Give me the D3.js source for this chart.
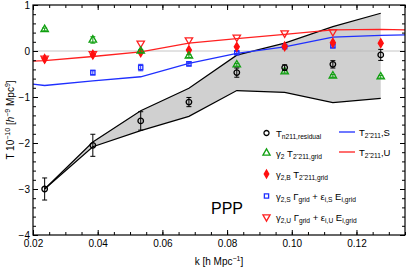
<!DOCTYPE html>
<html><head><meta charset="utf-8">
<script src="https://cdn.jsdelivr.net/npm/d3@7"></script>
<style>
body{margin:0;background:#fff}
svg{font-family:"Liberation Sans",Arial,sans-serif}
</style>
</head><body><script>
var width = 407, height = 270

// bin centres and measured values
var kBins = [0.0236,0.0385,0.0533,0.0682,0.0830,0.0978,0.1127,0.1275]
var residual = [-3.0,-2.05,-1.52,-1.11,-0.47,-0.36,-0.29,-0.085]
var residualErr = [0.24,0.24,0.2,0.1,0.1,0.06,0.08,0.12]
var gammaGrid = [0.47,0.24,0.0,-0.11,-0.30,-0.45,-0.54,-0.56]
var gammaGridErr = [0.03,0.07,0.03,0.03,0.03,0.03,0.03,0.03]
var gammaB = [-0.17,-0.08,-0.03,0.02,0.09,0.10,0.18,0.17]
var gammaS = [null,-0.47,-0.36,-0.28,-0.04,0.095,0.11,null]
var gammaSErr = [0,0.05,0.07,0.04,0.03,0.03,0.03,0]
var gammaU = [-0.16,-0.06,0.17,0.24,0.30,0.39,0.42,null]
var bandUpper = [-3.0,-1.98,-1.3,-0.81,-0.09,0.17,0.53,0.82]
var bandLower = [-3.0,-2.08,-1.73,-1.42,-0.86,-0.9,-1.12,-1.03]

// model curves
var kModel = [0.02,0.0236,0.0385,0.0533,0.0682,0.0830,0.0978,0.1127,0.1275,0.135]
var modelS = [-0.72,-0.75,-0.65,-0.56,-0.27,-0.05,0.09,0.30,0.34,0.35]
var modelU = [-0.22,-0.21,-0.12,-0.02,0.17,0.27,0.36,0.46,0.47,0.46]

var xTicks = [0.02,0.04,0.06,0.08,0.10,0.12]
var yTicks = [1,0,-1,-2,-3,-4]

var pL = 33, pR = 405, pT = 5, pB = 235

var x = d3.scaleLinear().domain([0.02,0.135]).range([pL,pR])
var y = d3.scaleLinear().domain([-4,1]).range([pB,pT])

var svg = d3.select("body").append("svg")
.attr("width", width)
.attr("height", height)

//band between the two bounds
var band = d3.area()
.x(function(d,i){ return x(kBins[i]) })
.y0(function(d,i){ return y(bandLower[i]) })
.y1(function(d){ return y(d) })

svg.append("path")
.attr("d", band(bandUpper))
.attr("fill","#d0d0d0")

var bandLine = d3.line().x(function(d,i){ return x(kBins[i]) }).y(function(d){ return y(d) })
svg.append("path").attr("d", bandLine(bandUpper)).attr("fill","none").attr("stroke","#000").attr("stroke-width",1.2)
svg.append("path").attr("d", bandLine(bandLower)).attr("fill","none").attr("stroke","#000").attr("stroke-width",1.2)

//zero line
svg.append("line")
.attr("x1",pL).attr("x2",pR)
.attr("y1",y(0)).attr("y2",y(0))
.attr("stroke","#b8b8b8").attr("stroke-width",0.8)

//model lines
var modelLine = d3.line().x(function(d,i){ return x(kModel[i]) }).y(function(d){ return y(d) })
svg.append("path").attr("d", modelLine(modelS)).attr("fill","none").attr("stroke","#1f2fff").attr("stroke-width",1.3)
svg.append("path").attr("d", modelLine(modelU)).attr("fill","none").attr("stroke","#ff2020").attr("stroke-width",1.3)

function drawSeries(vals, errs, shape, color, filled, rot, size) {
  var g = svg.append("g")
  vals.forEach(function(v,i){
    if (v === null) return
    var cx = x(kBins[i]), cy = y(v)
    if (errs && errs[i] > 0) {
      var e0 = y(v-errs[i]), e1 = y(v+errs[i])
      g.append("line").attr("x1",cx).attr("x2",cx).attr("y1",e0).attr("y2",e1).attr("stroke",color).attr("stroke-width",1)
      g.append("line").attr("x1",cx-2.5).attr("x2",cx+2.5).attr("y1",e0).attr("y2",e0).attr("stroke",color).attr("stroke-width",1)
      g.append("line").attr("x1",cx-2.5).attr("x2",cx+2.5).attr("y1",e1).attr("y2",e1).attr("stroke",color).attr("stroke-width",1)
    }
    g.append("path")
    .attr("d", d3.symbol().type(shape).size(size)())
    .attr("transform","translate("+cx+","+cy+") rotate("+rot+")")
    .attr("fill", filled ? color : "none")
    .attr("stroke", color)
    .attr("stroke-width", 1.3)
  })
}

drawSeries(gammaU, null, d3.symbolTriangle, "#ff2020", false, 180, 24)
drawSeries(gammaS, gammaSErr, d3.symbolSquare, "#1f2fff", false, 0, 18)
drawSeries(gammaB, null, d3.symbolDiamond, "#ff1010", true, 0, 22)
drawSeries(gammaGrid, gammaGridErr, d3.symbolTriangle, "#10a010", false, 0, 24)
drawSeries(residual, residualErr, d3.symbolCircle, "#000", false, 0, 24)

//axes, ticks inward on all sides
var minorX = d3.range(0.02,0.1351,0.005)
var minorY = d3.range(-4,1.001,0.2)

function addAxis(axis, tx, ty) {
  var g = svg.append("g").attr("transform","translate("+tx+","+ty+")").call(axis)
  g.select(".domain").remove()
  g.selectAll("text").attr("font-size",10).attr("fill","#000").attr("font-family","Liberation Sans, Arial, sans-serif")
  return g
}
addAxis(d3.axisBottom(x).tickValues(xTicks).tickSize(-5).tickPadding(5).tickFormat(d3.format(".2f")),0,pB)
addAxis(d3.axisBottom(x).tickValues(minorX).tickSize(-3).tickFormat(""),0,pB)
addAxis(d3.axisTop(x).tickValues(xTicks).tickSize(-5).tickFormat(""),0,pT)
addAxis(d3.axisTop(x).tickValues(minorX).tickSize(-3).tickFormat(""),0,pT)
addAxis(d3.axisLeft(y).tickValues(yTicks).tickSize(-5).tickPadding(3).tickFormat(d3.format("d")),pL,0)
addAxis(d3.axisLeft(y).tickValues(minorY).tickSize(-3).tickFormat(""),pL,0)
addAxis(d3.axisRight(y).tickValues(yTicks).tickSize(-5).tickFormat(""),pR,0)
addAxis(d3.axisRight(y).tickValues(minorY).tickSize(-3).tickFormat(""),pR,0)

svg.append("rect")
.attr("x",pL).attr("y",pT)
.attr("width",pR-pL).attr("height",pB-pT)
.attr("fill","none").attr("stroke","#000").attr("stroke-width",1.2)

//rich text with subscripts / superscripts
function richText(sel, parts, size) {
  var shift = 0
  parts.forEach(function(p){
    var t = sel.append("tspan").text(p[0])
    var target = p[1] === "sub" ? size*0.3 : p[1] === "sup" ? -size*0.4 : 0
    t.attr("dy", target - shift)
    shift = target
    if (p[1]) t.attr("font-size", size*0.7)
    if (p[2]) t.attr("font-style","italic")
  })
}

var tl = "2\u0303 211"
var legendLeft = [
  {label:[["T"],["n211,residual","sub"]], shape:d3.symbolCircle, color:"#000", fill:false, rot:0, size:20},
  {label:[["\u03b3"],["2","sub"],[" T"],[tl+",grid","sub"]], shape:d3.symbolTriangle, color:"#10a010", fill:false, rot:0, size:22},
  {label:[["\u03b3"],["2,B","sub"],[" T"],[tl+",grid","sub"]], shape:d3.symbolDiamond, color:"#ff1010", fill:true, rot:0, size:18},
  {label:[["\u03b3"],["2,S","sub"],[" \u0393"],["grid","sub"],[" + \u03b5"],["i,S","sub"],[" E"],["i,grid","sub"]], shape:d3.symbolSquare, color:"#1f2fff", fill:false, rot:0, size:18},
  {label:[["\u03b3"],["2,U","sub"],[" \u0393"],["grid","sub"],[" + \u03b5"],["i,U","sub"],[" E"],["i,grid","sub"]], shape:d3.symbolTriangle, color:"#ff2020", fill:false, rot:180, size:22}
]
var legendRows = [133, 153, 174, 196, 217]

legendLeft.forEach(function(d,i){
  var yy = legendRows[i]
  svg.append("path")
  .attr("d", d3.symbol().type(d.shape).size(d.size)())
  .attr("transform","translate(266.5,"+yy+") rotate("+d.rot+")")
  .attr("fill", d.fill ? d.color : "none")
  .attr("stroke", d.color).attr("stroke-width",1.3)
  var t = svg.append("text").attr("x",276).attr("y",yy+3.5).attr("font-size",9.5)
  richText(t, d.label, 9.5)
})

var legendRight = [
  {label:[["T"],[tl,"sub"],[",S"]], color:"#1f2fff"},
  {label:[["T"],[tl,"sub"],[",U"]], color:"#ff2020"}
]
legendRight.forEach(function(d,i){
  var yy = legendRows[i] - 1
  svg.append("line").attr("x1",339).attr("x2",355).attr("y1",yy).attr("y2",yy)
  .attr("stroke",d.color).attr("stroke-width",1.3)
  var t = svg.append("text").attr("x",359).attr("y",yy+3.5).attr("font-size",9.5)
  richText(t, d.label, 9.5)
})

svg.append("text")
.attr("x",227).attr("y",214)
.attr("text-anchor","middle")
.attr("font-size",16)
.text("PPP")

//axis labels
var xl = svg.append("text").attr("x",219).attr("y",265).attr("text-anchor","middle").attr("font-size",10)
richText(xl, [["k [h Mpc"],["\u22121","sup"],["]"]], 10)

var yl = svg.append("text")
.attr("transform","translate(14,120) rotate(-90)")
.attr("text-anchor","middle").attr("font-size",10)
richText(yl, [["T 10"],["\u221210","sup"],[" ["],["h","","it"],["\u22129","sup"],[" Mpc"],["9","sup"],["]"]], 10)
</script></body></html>
